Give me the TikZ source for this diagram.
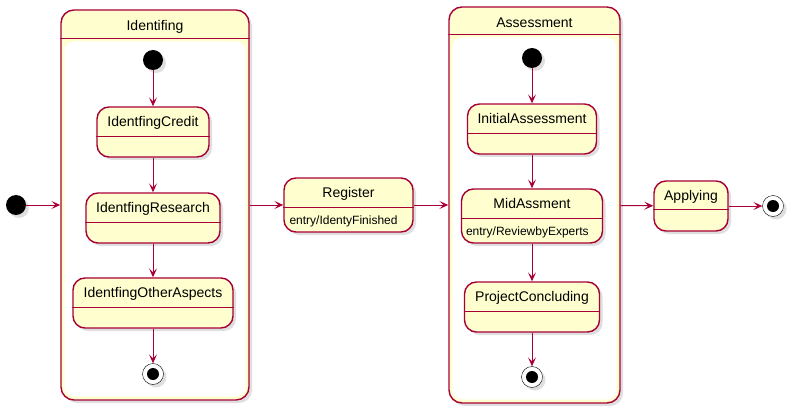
\documentclass[tikz,border=0pt]{standalone}
\usepackage{fontspec}
\setmainfont{Liberation Sans}
\usetikzlibrary{arrows.meta,shadows}

\definecolor{umlred}{HTML}{A80036}
\definecolor{umlyellow}{HTML}{FEFECE}

\tikzset{
    umlshadow/.style={drop shadow={opacity=0.25, shadow xshift=3pt, shadow yshift=-3pt}},
    statebox/.style={draw=umlred, fill=umlyellow, line width=1.4pt, rounded corners=12pt,
        minimum height=50pt, inner sep=0pt, umlshadow},
    sepline/.style={draw=umlred, line width=1.4pt},
    statename/.style={anchor=base, inner sep=0pt, font=\fontsize{14}{16}\selectfont},
    entrytext/.style={anchor=base west, inner sep=0pt, font=\fontsize{12}{14}\selectfont},
    initdot/.style={circle, fill=black, minimum size=20pt, inner sep=0pt, umlshadow},
    finaldot/.style={circle, draw=black, fill=white, minimum size=21pt, inner sep=0pt, umlshadow,
        path picture={\fill[black] (path picture bounding box.center) circle[radius=6pt];}},
    trans/.style={draw=umlred, line width=1pt, -{Stealth[length=9pt, width=8pt, inset=4pt]}},
}

\begin{document}
\begin{tikzpicture}[x=1pt, y=-1pt]
    \useasboundingbox (0,0) rectangle (794,414);

    % composite states
    \begin{scope}
        \node[statebox, minimum width=188pt, minimum height=390pt, rounded corners=13pt] (iden) at (155,205) {};
        \draw[sepline] ([yshift=-29pt]iden.north west) -- ([yshift=-29pt]iden.north east);
        \fill[white, rounded corners=10pt] ([xshift=4pt, yshift=-32pt]iden.north west) rectangle ([xshift=-4pt, yshift=4pt]iden.south east);
        \node[statename] at ([yshift=-21pt]iden.north) {Identifing};

        \node[statebox, minimum width=171pt, minimum height=396pt, rounded corners=13pt] (asse) at (534.5,205) {};
        \draw[sepline] ([yshift=-28pt]asse.north west) -- ([yshift=-28pt]asse.north east);
        \fill[white, rounded corners=10pt] ([xshift=4pt, yshift=-31pt]asse.north west) rectangle ([xshift=-4pt, yshift=4pt]asse.south east);
        \node[statename] at ([yshift=-21pt]asse.north) {Assessment};
    \end{scope}

    % simple states
    \begin{scope}[every node/.style={statebox}]
        \node[minimum width=112pt] (cred) at (153,132) {};
        \node[minimum width=134pt] (rese) at (153,218) {};
        \node[minimum width=160pt] (othe) at (153,303) {};
        \node[minimum width=129pt, minimum height=54pt] (regi) at (348.5,205) {};
        \node[minimum width=129pt] (init) at (532,129) {};
        \node[minimum width=141pt, minimum height=54pt] (mids) at (532,216) {};
        \node[minimum width=135pt] (proj) at (532,307) {};
        \node[minimum width=74pt] (appl) at (691,206) {};
    \end{scope}

    \begin{scope}
        \foreach \s in {cred,rese,othe,regi,init,mids,proj}
            \draw[sepline] ([yshift=-30pt]\s.north west) -- ([yshift=-30pt]\s.north east);
        \draw[sepline] ([yshift=-29pt]appl.north west) -- ([yshift=-29pt]appl.north east);

        \node[statename] at ([yshift=-20.5pt]cred.north) {IdentfingCredit};
        \node[statename] at ([yshift=-20.5pt]rese.north) {IdentfingResearch};
        \node[statename] at ([yshift=-20.5pt]othe.north) {IdentfingOtherAspects};
        \node[statename] at ([yshift=-20.5pt]regi.north) {Register};
        \node[statename] at ([yshift=-20.5pt]init.north) {InitialAssessment};
        \node[statename] at ([yshift=-20.5pt]mids.north) {MidAssment};
        \node[statename] at ([yshift=-20.5pt]proj.north) {ProjectConcluding};
        \node[statename] at ([yshift=-20.5pt]appl.north) {Applying};

        \node[entrytext] at ([xshift=6pt, yshift=-47pt]regi.north west) {entry/IdentyFinished};
        \node[entrytext] at ([xshift=5pt, yshift=-47pt]mids.north west) {entry/ReviewbyExperts};
    \end{scope}

    % start and end points
    \begin{scope}
        \node[initdot] (start) at (16,205) {};
        \node[initdot] (idenstart) at (153,60) {};
        \node[initdot] (assestart) at (532,58) {};

        \node[finaldot] (idenend) at (153,374) {};
        \node[finaldot] (asseend) at (532,377) {};
        \node[finaldot] (finish) at (773,206) {};
    \end{scope}

    \begin{scope}[every edge/.style={trans}]
        \path (start) edge (iden);
        \path (iden) edge (regi);
        \path (regi) edge (asse);
        \path (asse) edge (appl);
        \path (appl) edge (finish);

        \path (idenstart) edge (cred);
        \path (cred) edge (rese);
        \path (rese) edge (othe);
        \path (othe) edge (idenend);

        \path (assestart) edge (init);
        \path (init) edge (mids);
        \path (mids) edge (proj);
        \path (proj) edge (asseend);
    \end{scope}
\end{tikzpicture}
\end{document}
